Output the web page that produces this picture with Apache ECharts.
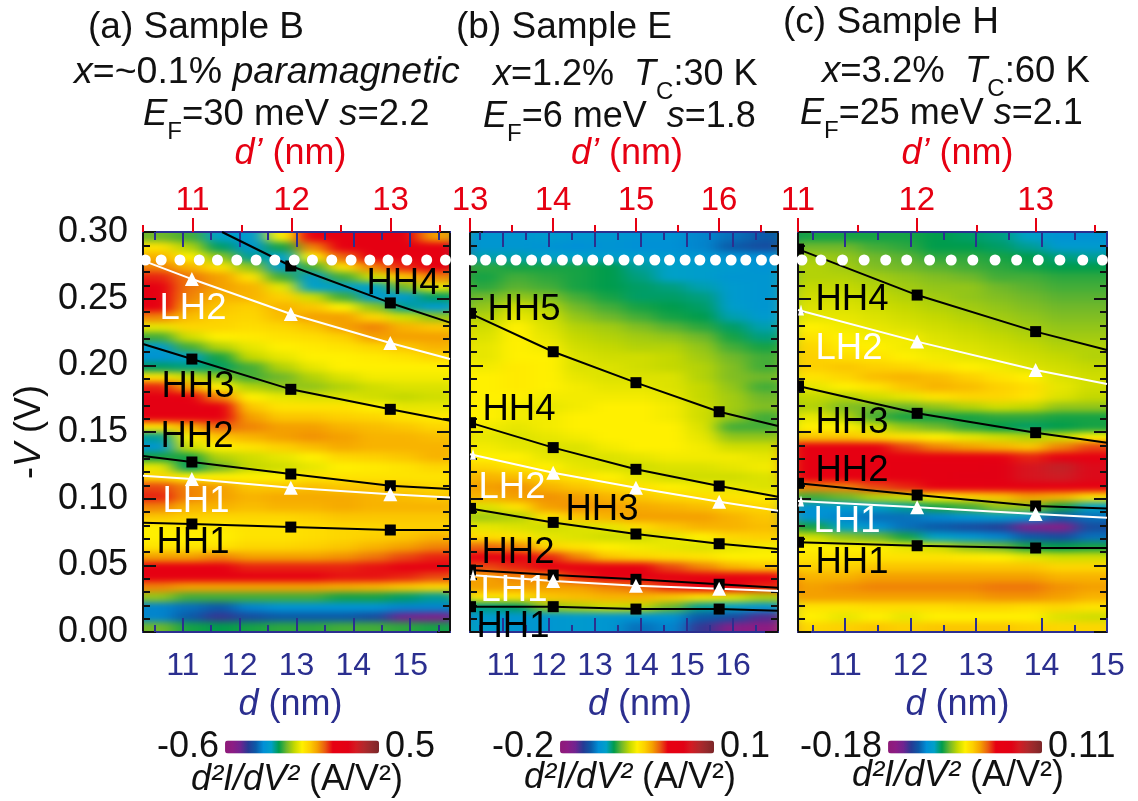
<!DOCTYPE html>
<html>
<head>
<meta charset="utf-8">
<style>html,body{margin:0;padding:0;background:#fff}#c{width:1138px;height:801px}#f{position:absolute;width:0;height:0}</style>
<script src="https://cdn.jsdelivr.net/npm/echarts@6/dist/echarts.min.js"></script>
</head>
<body>
<svg id="f"><filter id="soft" filterUnits="userSpaceOnUse" x="0" y="0" width="1138" height="801" color-interpolation-filters="sRGB"><feGaussianBlur stdDeviation="9 3"/></filter></svg>
<div id="c"></div>
<script>
// Bias rows of every map (V), top to bottom
const voltageRows = [0.296,0.289,0.281,0.274,0.266,0.259,0.251,0.244,0.236,0.229,0.221,0.214,0.206,0.199,0.191,0.184,0.176,0.169,0.161,0.154,0.146,0.139,0.131,0.124,0.116,0.109,0.101,0.094,0.086,0.079,0.071,0.064,0.056,0.049,0.041,0.034,0.026,0.019,0.011,0.004];

// Sample B: column positions (d, nm) and colour-scale readings (% of scale range)
const sampleB_d = [10.57,11.11,11.65,12.19,12.73,13.27,13.81,14.35,14.89,15.43];
const sampleB_c1 = [40,52,58,62,68,72,72,70,62,48,38,28,26,34,52,68,78,78,72,52,32,27,36,48,54,66,68,62,56,50,50,52,60,70,72,62,42,24,24,40];
const sampleB_c2 = [38,44,50,58,63,63,62,60,57,54,46,38,29,33,46,60,72,78,74,58,50,46,36,34,50,62,62,58,55,51,50,52,60,70,70,60,38,22,20,36];
const sampleB_c3 = [30,34,42,52,60,60,58,56,55,54,50,44,36,34,42,50,62,72,74,64,56,50,44,40,50,60,60,58,54,51,50,52,62,72,70,60,38,20,14,35];
const sampleB_c4 = [28,27,32,42,52,58,58,55,54,53,51,48,45,38,38,44,50,56,60,62,58,52,46,45,50,56,58,57,54,52,52,54,60,68,70,60,38,24,18,36];
const sampleB_c5 = [50,36,30,28,38,48,55,58,57,54,52,50,48,44,40,42,48,52,56,60,60,55,48,46,50,56,59,58,54,52,52,54,60,68,70,60,38,26,20,37];
const sampleB_c6 = [72,62,50,38,28,30,46,56,60,56,53,51,50,48,44,42,47,52,56,60,61,57,50,48,52,57,59,58,55,53,53,55,60,68,70,60,38,26,20,37];
const sampleB_c7 = [74,72,64,52,38,29,38,50,60,60,55,52,50,50,47,44,47,52,55,58,60,59,54,50,52,56,59,59,56,54,54,56,61,68,69,59,36,26,20,38];
const sampleB_c8 = [76,76,72,62,46,30,28,42,54,62,60,54,51,50,49,46,46,50,54,57,58,58,55,51,52,56,58,58,56,54,55,58,63,69,69,58,36,26,18,38];
const sampleB_c9 = [78,76,74,68,56,40,28,32,46,58,60,56,52,50,49,47,45,48,52,56,58,58,56,52,52,55,57,58,56,55,56,60,66,70,68,56,34,24,10,37];
const sampleB_c10 = [60,74,74,70,62,48,34,28,42,56,60,58,54,50,49,47,46,48,51,54,57,58,58,54,52,54,56,58,56,55,58,62,68,70,66,54,32,24,8,36];

// Sample E
const sampleE_d = [10.62,11.29,11.96,12.63,13.30,13.97,14.64,15.31,15.98,16.65];
const sampleE_c1 = [27,27,31,37,36,37,40,42,44,46,47,48,48,49,50,50,50,50,50,49,48,49,50,54,58,60,58,47,43,48,53,64,70,66,60,60,52,33,28,29];
const sampleE_c2 = [27,27,31,36,38,39,42,46,48,50,50,50,50,51,51,51,50,49,49,48,47,48,50,52,57,61,60,52,44,47,52,62,71,68,62,60,52,34,27,27];
const sampleE_c3 = [28,26,30,36,37,38,41,44,46,47,48,49,50,50,50,50,49,48,49,49,48,47,48,50,54,58,61,60,52,46,48,54,68,72,62,60,56,42,27,27];
const sampleE_c4 = [27,25,30,36,36,36,38,40,42,44,45,46,47,47,48,49,49,49,50,50,49,47,47,48,52,56,60,61,56,47,47,52,62,72,68,60,57,44,28,28];
const sampleE_c5 = [27,26,29,35,35,35,36,38,40,43,44,45,46,47,47,48,49,50,50,50,50,49,47,47,50,54,58,60,58,48,46,50,56,72,72,62,58,46,27,27];
const sampleE_c6 = [26,25,29,32,33,34,34,36,38,41,43,44,46,46,47,48,49,50,50,50,50,50,48,46,48,52,56,59,60,53,46,49,54,70,74,64,58,45,26,22];
const sampleE_c7 = [26,25,28,30,30,33,34,35,36,39,42,44,45,45,47,47,48,49,49,50,50,50,49,47,46,50,54,58,60,56,48,48,53,66,74,68,56,40,26,24];
const sampleE_c8 = [24,24,27,29,29,31,33,34,35,37,40,42,43,44,44,45,45,46,46,47,48,49,49,47,46,49,53,57,60,58,50,47,52,62,74,70,52,32,20,14];
const sampleE_c9 = [22,20,26,28,27,28,28,29,31,34,36,38,40,41,41,42,43,43,42,38,42,46,49,48,46,48,52,55,58,58,54,48,50,58,73,70,48,30,18,6];
const sampleE_c10 = [20,18,25,26,27,27,27,27,28,31,33,36,38,38,40,38,40,41,38,38,42,46,48,49,47,47,51,54,56,57,55,49,50,56,70,68,44,27,12,4];

// Sample H
const sampleH_d = [10.52,10.99,11.46,11.93,12.40,12.88,13.35,13.82,14.29,14.76];
const sampleH_c1 = [36,40,43,44,44,45,46,47,48,50,52,54,55,55,52,48,45,44,48,50,56,70,72,72,72,62,38,26,26,36,46,50,52,55,58,60,60,52,50,54];
const sampleH_c2 = [36,40,42,43,44,45,46,47,48,49,50,51,53,56,54,50,44,41,44,50,56,72,73,72,72,62,40,28,24,30,42,50,52,55,58,61,60,52,48,55];
const sampleH_c3 = [36,38,40,41,43,44,45,46,47,48,49,50,52,55,57,52,46,40,38,46,54,70,74,74,74,66,44,30,22,26,40,50,52,56,60,62,60,53,50,56];
const sampleH_c4 = [36,37,39,40,42,43,44,45,46,47,49,49,50,54,58,56,48,40,36,42,52,66,74,76,76,68,46,32,22,22,36,48,52,56,60,62,60,53,48,55];
const sampleH_c5 = [35,35,37,39,41,42,43,44,45,46,47,48,49,52,57,58,52,42,36,40,50,62,74,78,78,72,50,36,24,20,30,46,52,56,60,62,60,53,50,56];
const sampleH_c6 = [34,35,37,38,40,42,42,43,44,45,46,47,48,50,55,57,54,44,36,37,48,60,72,78,80,74,54,38,26,18,27,42,51,56,60,62,60,54,50,56];
const sampleH_c7 = [33,34,36,37,38,40,41,42,43,44,45,46,47,49,52,55,54,46,37,35,46,58,70,80,80,76,56,42,28,16,24,40,50,56,60,63,61,54,50,56];
const sampleH_c8 = [30,32,35,36,38,39,40,41,42,43,44,45,46,47,50,53,52,45,37,34,44,56,68,84,84,76,60,42,27,8,20,36,48,56,60,63,61,53,50,55];
const sampleH_c9 = [26,28,33,35,37,38,39,40,41,42,43,44,45,46,47,48,47,42,36,35,46,62,70,88,86,74,58,36,20,6,18,35,46,54,58,61,60,54,47,54];
const sampleH_c10 = [26,28,32,35,37,38,39,40,41,42,43,44,44,45,46,46,45,42,36,36,50,66,72,82,82,70,52,30,22,18,22,36,46,54,58,60,58,52,46,54];

// Colour-bar end values (A/V^2)
const scaleB = [-0.6, 0.5], scaleE = [-0.2, 0.1], scaleH = [-0.18, 0.11];

// Subband lines: d (nm) and -V (V)
const linesB_d = [10.3,11.16,12.90,14.65,15.7];
const linesB_HH4_d = [11.69,12.90,14.65,15.7];
const linesB_HH4 = [0.300,0.2745,0.2468,0.232];
const linesB_LH2 = [0.2785,0.2647,0.2385,0.2167,0.2047];
const linesB_HH3 = [0.216,0.2047,0.182,0.167,0.1585];
const linesB_HH2 = [0.132,0.1275,0.1185,0.1097,0.1072];
const linesB_LH1 = [0.1172,0.1147,0.1082,0.1033,0.1008];
const linesB_HH1 = [0.082,0.081,0.0787,0.0765,0.0765];

const linesE_d = [10.28,12.09,13.89,15.70,16.98];
const linesE_HH5 = [0.239,0.2102,0.187,0.1652,0.1545];
const linesE_HH4 = [0.157,0.1383,0.122,0.1095,0.1015];
const linesE_LH2 = [0.1333,0.1195,0.1082,0.0977,0.091];
const linesE_HH3 = [0.0927,0.0822,0.0735,0.0662,0.0622];
const linesE_HH2 = [0.0465,0.0427,0.0395,0.0358,0.0332];
const linesE_LH1 = [0.0427,0.0382,0.0347,0.0325,0.0307];
const linesE_HH1 = [0.019,0.019,0.0172,0.0172,0.016];

const linesH_d = [10.28,12.10,13.91,15.0];
const linesH_HH4 = [0.2872,0.2527,0.2253,0.2115];
const linesH_LH2 = [0.2415,0.2178,0.1965,0.186];
const linesH_HH3 = [0.1845,0.164,0.1495,0.142];
const linesH_HH2 = [0.1115,0.1027,0.0945,0.0927];
const linesH_LH1 = [0.0982,0.0935,0.0885,0.0857];
const linesH_HH1 = [0.0673,0.0647,0.063,0.063];

// White dots along the Fermi-level row
const dotsV = 0.279;
const dotsB_d = [10.34,10.62,10.95,11.29,11.61,11.95,12.29,12.62,12.96,13.28,13.62,13.96,14.29,14.61,14.94,15.29,15.62];
const dotsE_d = [10.32,10.62,10.96,11.28,11.62,11.94,12.29,12.62,12.95,13.29,13.63,13.95,14.30,14.62,14.96,15.28,15.62,15.96,16.28,16.62,16.91];
const dotsH_d = [10.34,10.63,10.96,11.29,11.62,11.94,12.29,12.62,12.95,13.29,13.62,13.95,14.28,14.63,14.93];

// Tick values
const ticksB_d = [11,12,13,14,15], minorB_d = [10.5,11.5,12.5,13.5,14.5,15.5];
const ticksE_d = [11,12,13,14,15,16], minorE_d = [10.5,11.5,12.5,13.5,14.5,15.5,16.5];
const ticksH_d = [11,12,13,14,15], minorH_d = [10.5,11.5,12.5,13.5,14.5];
const ticksB_dp = [11,12,13], minorB_dp = [10.5,11.5,12.5,13.5];
const ticksE_dp = [13,14,15,16], minorE_dp = [13.5,14.5,15.5,16.5];
const ticksH_dp = [11,12,13], minorH_dp = [11.5,12.5,13.5];

const FONT = '"Liberation Sans", Arial, sans-serif';
const NAVY = '#2b2f8f', RED = '#e60012', BLACK = '#111';
const palette = ['#8f1a78','#8c1c85','#6f2490','#263a94','#0b5aa8','#0090d6','#00a0c8','#009c4c','#70b82a','#c4d800','#fff000','#fdd000','#f4a000','#ea5a10','#e60012','#e60012','#e20014','#d41a22','#b4272b','#962a2c','#7c2628'];

const panels = [
  { rect:[143,232,307,400], dRange:[10.3,15.7], dpRange:[10.5,13.6], d:sampleB_d, cols:[sampleB_c1,sampleB_c2,sampleB_c3,sampleB_c4,sampleB_c5,sampleB_c6,sampleB_c7,sampleB_c8,sampleB_c9,sampleB_c10], scale:scaleB, scaleText:['0.5','-0.6'], vmLeft:142, ticks:ticksB_d, minor:minorB_d, dpTicks:ticksB_dp, dpMinor:minorB_dp, dots:dotsB_d, showY:true, dShift:-6, dpShift:-6, padL:30, padR:10,
    lines:[[linesB_HH4_d,linesB_HH4,0,'HH4'],[linesB_d,linesB_LH2,1,'LH2'],[linesB_d,linesB_HH3,0,'HH3'],[linesB_d,linesB_HH2,0,'HH2'],[linesB_d,linesB_LH1,1,'LH1'],[linesB_d,linesB_HH1,0,'HH1']], edge:false },
  { rect:[470,232,308,400], dRange:[10.28,16.98], dpRange:[13,16.71], d:sampleE_d, cols:[sampleE_c1,sampleE_c2,sampleE_c3,sampleE_c4,sampleE_c5,sampleE_c6,sampleE_c7,sampleE_c8,sampleE_c9,sampleE_c10], scale:scaleE, scaleText:['0.1','-0.2'], vmLeft:477, ticks:ticksE_d, minor:minorE_d, dpTicks:ticksE_dp, dpMinor:minorE_dp, dots:dotsE_d, showY:false, dShift:16, dpShift:3, padL:10, padR:10,
    lines:[[linesE_d,linesE_HH5,0,'HH5'],[linesE_d,linesE_HH4,0,'HH4'],[linesE_d,linesE_LH2,1,'LH2'],[linesE_d,linesE_HH3,0,'HH3'],[linesE_d,linesE_HH2,0,'HH2'],[linesE_d,linesE_LH1,1,'LH1'],[linesE_d,linesE_HH1,0,'HH1']], edge:true },
  { rect:[798,232,309,400], dRange:[10.28,15], dpRange:[11,13.6], d:sampleH_d, cols:[sampleH_c1,sampleH_c2,sampleH_c3,sampleH_c4,sampleH_c5,sampleH_c6,sampleH_c7,sampleH_c8,sampleH_c9,sampleH_c10], scale:scaleH, scaleText:['0.11','-0.18'], vmLeft:785, ticks:ticksH_d, minor:minorH_d, dpTicks:ticksH_dp, dpMinor:minorH_dp, dots:dotsH_d, showY:false, dShift:5, dpShift:5, padL:10, padR:30,
    lines:[[linesH_d,linesH_HH4,0,'HH4'],[linesH_d,linesH_LH2,1,'LH2'],[linesH_d,linesH_HH3,0,'HH3'],[linesH_d,linesH_HH2,0,'HH2'],[linesH_d,linesH_LH1,1,'LH1'],[linesH_d,linesH_HH1,0,'HH1']], edge:true }
];

const grid = [], xAxis = [], yAxis = [], series = [], visualMap = [];
const PADY = 16;

function xAx(o){
  return Object.assign({type:'value', zlevel:1, splitLine:{show:false}, axisLine:{show:true,onZero:false,lineStyle:{color:NAVY,width:2}}, axisLabel:{show:false}, axisTick:{show:false}}, o);
}
const shiftPad = s => [0, s<0?-2*s:0, 0, s>0?2*s:0];
panels.forEach((p,k)=>{
  const r = p.rect;
  grid.push({left:r[0], top:r[1], width:r[2], height:r[3]});
  const base = k*6;
  const dR = {gridIndex:k, min:p.dRange[0], max:p.dRange[1]};
  const dpR = {gridIndex:k, min:p.dpRange[0], max:p.dpRange[1]};
  const tick = (vals,len,color,inside)=>({show:true, customValues:vals, length:len, inside:inside, lineStyle:{color:color,width:2}});
  xAxis.push(xAx(Object.assign({},dR,{position:'bottom', axisTick:tick(p.ticks,14,NAVY,true),
    axisLabel:{show:true, customValues:p.ticks, color:NAVY, fontSize:32, fontFamily:FONT, margin:18, hideOverlap:false, showMinLabel:true, showMaxLabel:true},
    name:'{i|d} (nm)', nameLocation:'middle', nameGap:55,
    nameTextStyle:{color:NAVY, fontSize:36, fontFamily:FONT, padding:shiftPad(p.dShift), rich:{i:{fontStyle:'italic',color:NAVY,fontSize:36,fontFamily:FONT}}}})));
  xAxis.push(xAx(Object.assign({},dR,{position:'bottom', axisTick:tick(p.minor,7,NAVY,true)})));
  xAxis.push(xAx(Object.assign({},dR,{position:'top', axisTick:tick(p.ticks,15,NAVY,true)})));
  xAxis.push(xAx(Object.assign({},dR,{position:'top', axisTick:tick(p.minor,8,NAVY,true)})));
  xAxis.push(xAx(Object.assign({},dpR,{position:'top', axisTick:tick(p.dpTicks,14,RED,false),
    axisLabel:{show:true, customValues:p.dpTicks, color:RED, fontSize:33, fontFamily:FONT, margin:15, hideOverlap:false, showMinLabel:true, showMaxLabel:true},
    name:'{i|d\u2019} (nm)', nameLocation:'middle', nameGap:60,
    nameTextStyle:{color:RED, fontSize:36, fontFamily:FONT, padding:shiftPad(p.dpShift), rich:{i:{fontStyle:'italic',color:RED,fontSize:36,fontFamily:FONT}}}})));
  xAxis.push(xAx(Object.assign({},dpR,{position:'top', axisTick:tick(p.dpMinor,7,RED,false)})));
  const yCommon = {type:'value', gridIndex:k, min:0, max:0.3, interval:0.05, zlevel:1, splitLine:{show:false},
    axisLine:{show:true,onZero:false,lineStyle:{color:BLACK,width:2}},
    axisTick:{show:true,inside:true,length:13,lineStyle:{color:BLACK,width:2}},
    minorTick:{show:true,splitNumber:5,length:7,lineStyle:{color:BLACK,width:2}}};
  yAxis.push(Object.assign({},yCommon,{position:'left',
    axisLabel:{show:p.showY,color:BLACK,fontSize:36,fontFamily:FONT,margin:15,padding:[0,0,6,0],formatter:v=>v.toFixed(2)},
    name:p.showY?'-{i|V} (V)':'', nameLocation:'middle', nameGap:95, nameRotate:90,
    nameTextStyle:{color:BLACK,fontSize:36,fontFamily:FONT,rich:{i:{fontStyle:'italic',color:BLACK,fontSize:36,fontFamily:FONT}}}}));
  yAxis.push(Object.assign({},yCommon,{position:'right',axisLabel:{show:false}}));

  // colour map cells
  const nCol = p.d.length, nRow = voltageRows.length;
  const xEdges = [p.dRange[0]];
  for(let i=1;i<nCol;i++) xEdges.push((p.d[i-1]+p.d[i])/2);
  xEdges.push(p.dRange[1]);
  const yEdges = [0.3];
  for(let j=1;j<nRow;j++) yEdges.push((voltageRows[j-1]+voltageRows[j])/2);
  yEdges.push(0);
  const cells = [];
  p.cols.forEach((col,i)=>col.forEach((pct,j)=>{
    cells.push([p.d[i], voltageRows[j], p.scale[0]+(p.scale[1]-p.scale[0])*pct/100]);
  }));
  const seriesIdx = series.length;
  series.push({type:'custom', name:'map'+k, xAxisIndex:base, yAxisIndex:k*2, zlevel:0, silent:true,
    dimensions:['d','V','value'], encode:{x:0,y:1}, data:cells, clip:false,
    renderItem:(params,api)=>{
      const idx = params.dataIndex, i = Math.floor(idx/nRow), j = idx%nRow;
      const a = api.coord([xEdges[i],yEdges[j]]), b = api.coord([xEdges[i+1],yEdges[j+1]]);
      const x0 = Math.round(a[0])-(i===0?p.padL:0), x1 = Math.round(b[0])+(i===nCol-1?p.padR:0);
      const y0 = Math.round(a[1])-(j===0?PADY:0), y1 = Math.round(b[1])+(j===nRow-1?PADY:0);
      return {type:'rect', shape:{x:x0,y:y0,width:x1-x0,height:y1-y0}, style:{fill:api.visual('color')}};
    }});
  visualMap.push({type:'continuous', seriesIndex:seriesIdx, dimension:2, min:p.scale[0], max:p.scale[1], orient:'horizontal',
    left:p.vmLeft, top:714, itemWidth:13, itemHeight:154, text:p.scaleText, textGap:6, calculable:false, hoverLink:false, realtime:false, zlevel:1,
    textStyle:{color:BLACK,fontSize:36,fontFamily:FONT}, inRange:{color:palette}});

  // subband lines
  p.lines.forEach(L=>{
    const white = L[2]===1, n = L[0].length;
    const data = L[0].map((d,i)=>{
      const it = {value:[d,L[1][i]]};
      if(i===n-1 || (i===0 && !p.edge) || (L[3]==='HH4' && k===0 && i===0)) it.symbol='none';
      else if(i===0){ it.symbolSize=[6,11]; it.symbolOffset=[3,0]; }
      return it;
    });
    series.push({type:'line', name:L[3], xAxisIndex:base, yAxisIndex:k*2, zlevel:1, silent:true, data,
      symbol:white?'triangle':'rect', symbolSize:white?14:11, showAllSymbol:true,
      lineStyle:{color:white?'#fff':'#000',width:2}, itemStyle:{color:white?'#fff':'#000',borderWidth:0}});
  });
  // Fermi-level dots
  series.push({type:'scatter', name:'EF'+k, xAxisIndex:base, yAxisIndex:k*2, zlevel:1, z:3, silent:true, symbolSize:11, clip:true,
    data:p.dots.map(d=>[d,dotsV]), itemStyle:{color:'#fff',opacity:1}});
});

// Text blocks
const R = {i:{fontStyle:'italic'}, n:{}, s:{fontSize:24, verticalAlign:'bottom', lineHeight:24}};
function T(x,y,text,size,color,align){
  const rich = {};
  Object.keys(R).forEach(k=>{ rich[k]=Object.assign({fontSize:size, fontFamily:FONT, fill:color, lineHeight:58},R[k]); });
  return {type:'text', zlevel:1, z:50, silent:true, x:x, y:y,
    style:{text:text, rich:rich, fill:color, fontSize:size, fontFamily:FONT, textAlign:align||'left', textVerticalAlign:'middle', lineHeight:58}};
}
const graphicEls = [
  T(88,28,'{n|(a) Sample B}',37,'#111'),
  T(74,73,'{i|x}{n|=~0.1% }{i|paramagnetic}',37.5,'#111'),
  T(143,115,'{i|E}{s|F}{n|=30 meV }{i|s}{n|=2.2}',36.5,'#111'),
  T(456,28,'{n|(b) Sample E}',37,'#111'),
  T(493,75,'{i|x}{n|=1.2%  }{i|T}{s|C}{n|:30 K}',36,'#111'),
  T(483,117,'{i|E}{s|F}{n|=6 meV  }{i|s}{n|=1.8}',36,'#111'),
  T(783,23,'{n|(c) Sample H}',37,'#111'),
  T(822,72,'{i|x}{n|=3.2%  }{i|T}{s|C}{n|:60 K}',36.5,'#111'),
  T(800,114,'{i|E}{s|F}{n|=25 meV }{i|s}{n|=2.1}',36,'#111'),
  T(297,780,'{i|d\u00b2I/dV\u00b2} {n|(A/V\u00b2)}',36,'#111','center'),
  T(630,778,'{i|d\u00b2I/dV\u00b2} {n|(A/V\u00b2)}',36,'#111','center'),
  T(958,776,'{i|d\u00b2I/dV\u00b2} {n|(A/V\u00b2)}',36,'#111','center')
];
const bandLabels = [
  ['HH4',403,284,'#000'],['LH2',193,309,'#fff'],['HH3',198,387,'#000'],['HH2',197,437,'#000'],['LH1',196,502,'#fff'],['HH1',193,543,'#000'],
  ['HH5',524,310,'#000'],['HH4',519,410,'#000'],['LH2',512,488,'#fff'],['HH3',602,510,'#000'],['HH2',518,553,'#000'],['LH1',514,591,'#fff'],['HH1',513,627,'#000'],
  ['HH4',852,300,'#000'],['LH2',849,349,'#fff'],['HH3',852,423,'#000'],['HH2',852,471,'#000'],['LH1',847,522,'#fff'],['HH1',852,563,'#000']
];
bandLabels.forEach(b=>graphicEls.push({type:'text', zlevel:1, z:60, silent:true, x:b[1], y:b[2],
  style:{text:b[0], fill:b[3], fontSize:36.5, fontFamily:FONT, textAlign:'center', textVerticalAlign:'middle'}}));

const chart = echarts.init(document.getElementById('c'), null, {renderer:'canvas', width:1138, height:801});
chart.setOption({animation:false, backgroundColor:'transparent', tooltip:{show:false}, grid, xAxis, yAxis, series, visualMap, graphic:{elements:graphicEls}});

// Soft focus on the map layer only (zlevel 0), cut to the three plot frames
function soften(){
  const cv = chart.getDom().querySelectorAll('canvas');
  if(cv.length){
    cv[0].style.filter = 'url(#soft)';
    cv[0].style.clipPath = "path('M143 232H450V632H143Z M470 232H778V632H470Z M798 232H1107V632H798Z')";
  }
}
soften();
chart.on('finished', soften);
setTimeout(soften, 50);
</script>
</body>
</html>
